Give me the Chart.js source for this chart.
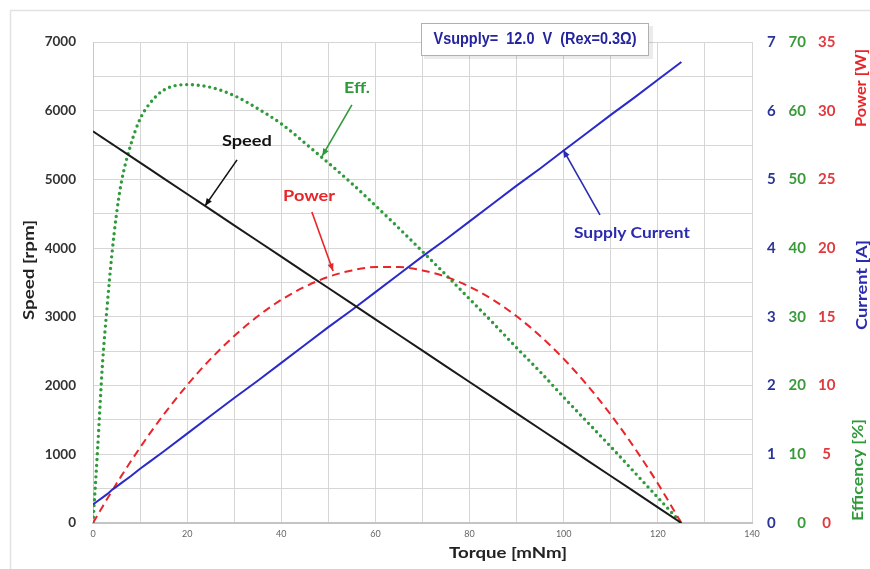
<!DOCTYPE html>
<html><head><meta charset="utf-8">
<script src="https://cdn.jsdelivr.net/npm/chart.js@4.4.1/dist/chart.umd.min.js"></script>
<style>html,body{margin:0;padding:0;background:#fff;} #wrap{width:870px;height:569px;position:relative;}</style>
</head><body><div id="wrap"><canvas id="c"></canvas></div>
<script>
// ---- data ----
const torque        = [0,1,2,3,4,5,6,8,10,12,15,20,25,30,35,40,45,50,55,60,65,70,75,80,85,90,95,100,105,110,115,120,125];
const speedRpm      = [5700,5654,5609,5563,5518,5472,5426,5335,5244,5153,5016,4788,4560,4332,4104,3876,3648,3420,3192,2964,2736,2508,2280,2052,1824,1596,1368,1140,912,684,456,228,0];
const currentA      = [0.27,0.32,0.37,0.42,0.48,0.53,0.58,0.68,0.79,0.89,1.04,1.30,1.56,1.82,2.07,2.33,2.59,2.85,3.10,3.36,3.62,3.88,4.13,4.39,4.65,4.91,5.16,5.42,5.68,5.94,6.19,6.45,6.71];
const powerW        = [0,0.59,1.17,1.75,2.31,2.87,3.41,4.47,5.49,6.48,7.88,10.03,11.94,13.61,15.04,16.24,17.19,17.91,18.38,18.62,18.62,18.38,17.91,17.19,16.24,15.04,13.61,11.94,10.03,7.88,5.49,2.87,0];
const efficiencyPct = [0,11,23,31.5,39,45,49.5,55,58.8,61,63,63.8,63.4,62.2,60.3,58.1,55.3,52.4,49.4,46.2,42.9,39.5,36.1,32.6,29.1,25.5,22.0,18.3,14.7,11.1,7.4,3.7,0];

const torqueTickLabels  = [0,20,40,60,80,100,120,140];
const speedTickLabels   = [0,1000,2000,3000,4000,5000,6000,7000];
const currentTickLabels = [0,1,2,3,4,5,6,7];
const effTickLabels     = [0,10,20,30,40,50,60,70];
const powerTickLabels   = [0,5,10,15,20,25,30,35];

const titleText  = 'Vsupply=  12.0  V  (Rex=0.3\u03A9)';
const xTitle = 'Torque [mNm]';
const yTitle = 'Speed [rpm]';
const curTitle = 'Current [A]';
const effTitle = 'Efficency [%]';
const powTitle = 'Power [W]';

// callouts: label position and arrow (in torque / speed-axis units)
const callouts = [
  {text:'Speed', color:'#111111', w:50, lx:32.7, ly:5560, ax:30.6, ay:5284, bx:23.8, by:4615},
  {text:'Eff.', color:'#2e9a3a', w:26, lx:56.1, ly:6330, ax:55.0, ay:6084, bx:48.7, by:5342},
  {text:'Power', color:'#e8262a', w:52, lx:45.9, ly:4760, ax:46.5, ay:4527, bx:51.0, by:3668},
  {text:'Supply Current', color:'#2b2bb0', w:116, lx:114.5, ly:4221, ax:107.7, ay:4483, bx:99.9, by:5429}
];

const BLUE='#2b2bb0', GREEN='#2e9a3a', RED='#e8262a';

function pts(ys){ return torque.map((t,i)=>({x:t,y:ys[i]})); }

function fitText(ctx, text, cx, cy, w, font, color, rot){
  ctx.save();
  ctx.font = font;
  ctx.fillStyle = color;
  ctx.textAlign='center'; ctx.textBaseline='middle';
  ctx.translate(cx, cy);
  if (rot) ctx.rotate(rot);
  if (w){ const m = ctx.measureText(text).width; ctx.scale(w/m, 1); }
  ctx.fillText(text, 0, 0);
  ctx.restore();
}

function arrow(ctx, x1,y1,x2,y2,color){
  ctx.save();
  ctx.strokeStyle=color; ctx.fillStyle=color; ctx.lineWidth=1.6;
  ctx.beginPath(); ctx.moveTo(x1,y1); ctx.lineTo(x2,y2); ctx.stroke();
  const a=Math.atan2(y2-y1,x2-x1), s=8;
  ctx.beginPath();
  ctx.moveTo(x2,y2);
  ctx.lineTo(x2-s*Math.cos(a-0.4), y2-s*Math.sin(a-0.4));
  ctx.lineTo(x2-s*Math.cos(a+0.4), y2-s*Math.sin(a+0.4));
  ctx.closePath(); ctx.fill();
  ctx.restore();
}

const decor = {
  id:'decor',
  beforeDraw(chart){
    const ctx=chart.ctx;
    ctx.save();
    ctx.fillStyle='#fff'; ctx.fillRect(0,0,chart.width,chart.height);
    ctx.strokeStyle='#e2e2e2'; ctx.lineWidth=1.5;
    ctx.beginPath(); ctx.moveTo(10.5,chart.height); ctx.lineTo(10.5,10.5); ctx.lineTo(chart.width,10.5); ctx.stroke();
    ctx.restore();
  },
  afterDraw(chart){
    const ctx=chart.ctx, sx=chart.scales.x, sy=chart.scales.y;
    callouts.forEach(c=>{
      arrow(ctx, sx.getPixelForValue(c.ax), sy.getPixelForValue(c.ay), sx.getPixelForValue(c.bx), sy.getPixelForValue(c.by), c.color);
      fitText(ctx, c.text, sx.getPixelForValue(c.lx), sy.getPixelForValue(c.ly), c.w, 'bold 16px Lato', c.color);
    });
    ctx.save();
    ctx.fillStyle='rgba(0,0,0,0.08)'; ctx.fillRect(424,26,229,33);
    ctx.fillStyle='#fff'; ctx.fillRect(421,23,228,33);
    ctx.strokeStyle='#b0b0b0'; ctx.lineWidth=1; ctx.strokeRect(421.5,23.5,227,32);
    ctx.restore();
    fitText(ctx, titleText, 535, 40, 203, 'bold 16px "Liberation Sans Narrow", "Liberation Sans", Arial', '#2424a0');
    fitText(ctx, xTitle, 508, 553, 118, 'bold 16px Lato', '#222');
    fitText(ctx, yTitle, 29, 270, 100, 'bold 15px Lato', '#222', -Math.PI/2);
    fitText(ctx, powTitle, 861, 88, 78, 'bold 15px Lato', RED, -Math.PI/2);
    fitText(ctx, curTitle, 862, 285, 90, 'bold 15px Lato', BLUE, -Math.PI/2);
    fitText(ctx, effTitle, 858, 470, 102, 'bold 15px Lato', GREEN, -Math.PI/2);
  }
};

const gridColor='#d6d6d6';
function rightAxis(min,max,step,labels,color,weight,pad,width,align){
  return {
    type:'linear', position:'right', min, max, weight,
    grid:{display:false, drawTicks:false}, border:{display:false},
    ticks:{stepSize:step, padding:pad, color, crossAlign:align, font:{family:'Lato', weight:'bold', size:15},
      callback:v=>labels.includes(v)?String(v):''},
    afterFit(s){ s.width=width; }
  };
}

new Chart(document.getElementById('c'), {
  type:'line',
  data:{ datasets:[
    {label:'Speed', data:pts(speedRpm), yAxisID:'y', borderColor:'#1a1a1a', borderWidth:2, pointRadius:0},
    {label:'Supply Current', data:pts(currentA), yAxisID:'yCur', borderColor:'#2a2ac8', borderWidth:2, pointRadius:0},
    {label:'Power', data:pts(powerW), yAxisID:'yPow', borderColor:RED, borderWidth:2, borderDash:[8,5], pointRadius:0, cubicInterpolationMode:'monotone'},
    {label:'Eff.', data:pts(efficiencyPct), yAxisID:'yEff', borderColor:'#2e9a3a', borderWidth:3.4, borderDash:[0,5.8], borderCapStyle:'round', pointRadius:0, cubicInterpolationMode:'monotone'}
  ]},
  options:{
    responsive:true, maintainAspectRatio:false, animation:false,
    layout:{padding:{left:12, top:42, right:24, bottom:10}},
    plugins:{legend:{display:false}, tooltip:{enabled:false}},
    scales:{
      x:{type:'linear', min:0, max:140,
        grid:{color:gridColor, drawTicks:false},
        border:{color:'#c4c4c4', width:2},
        ticks:{stepSize:10, padding:6, color:'#666', font:{family:'Lato', size:9},
          callback:v=>torqueTickLabels.includes(v)?String(v):''},
        afterFit(s){ s.height=36; }
      },
      y:{type:'linear', position:'left', min:0, max:7000,
        grid:{color:gridColor, drawTicks:false},
        border:{color:'#c8c8c8'},
        ticks:{stepSize:500, padding:17, color:'#333', font:{family:'Lato', weight:'bold', size:13.5},
          callback:v=>speedTickLabels.includes(v)?String(v):''},
        afterFit(s){ s.width=81; }
      },
      yCur: rightAxis(0,7,1,currentTickLabels,'#2b3596',0,15,34,'center'),
      yEff: rightAxis(0,70,10,effTickLabels,'#3a9a3a',1,0,20,'far'),
      yPow: rightAxis(0,35,5,powerTickLabels,'#e0393e',2,12,40,'center')
    }
  },
  plugins:[decor]
});
</script></body></html>
